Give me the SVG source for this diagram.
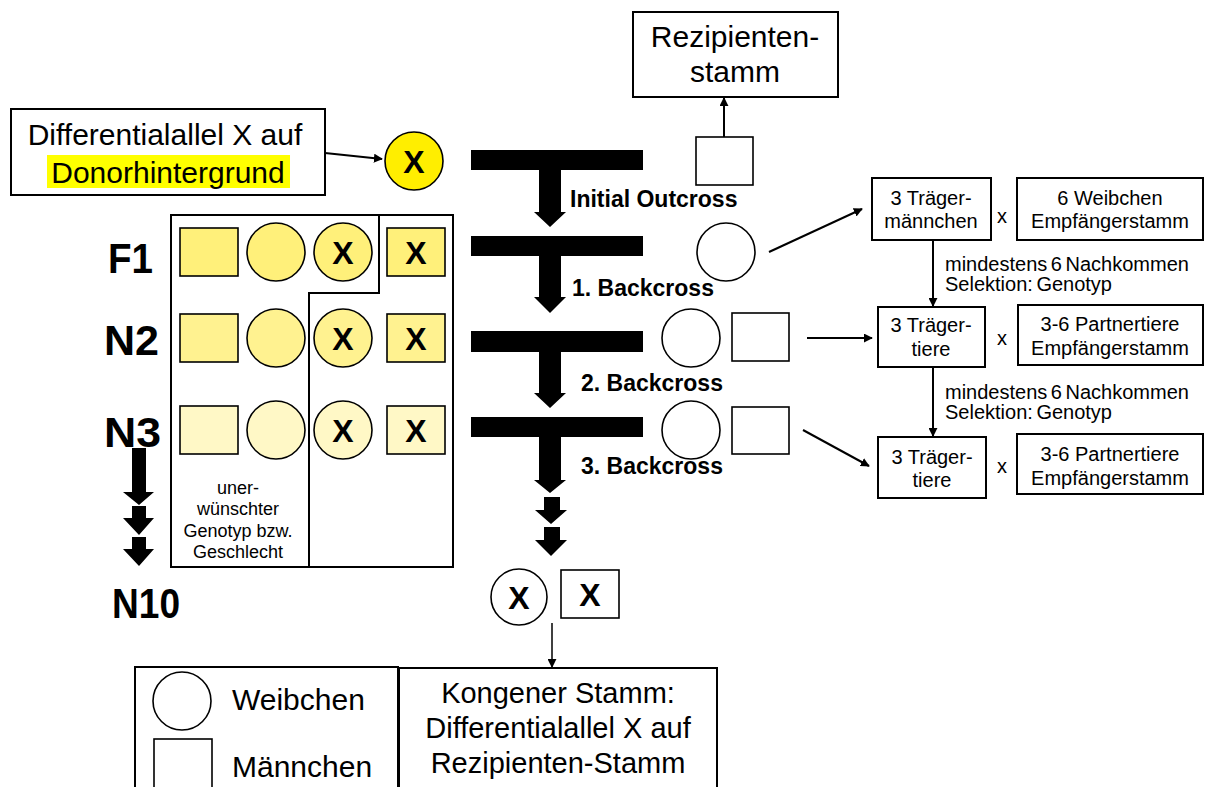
<svg xmlns="http://www.w3.org/2000/svg" width="1206" height="787" viewBox="0 0 1206 787">
  <style>
    text { font-family: "Liberation Sans", Arial, sans-serif; fill: #000; }
    .box { fill: #fff; stroke: #000; stroke-width: 2; }
    .ind { stroke: #000; stroke-width: 1.6; }
    .white { fill: #fff; }
    .y0 { fill: #ffee00; }
    .y1 { fill: #fff07a; }
    .y2 { fill: #fff290; }
    .y3 { fill: #fff8c6; }
    .gen { font-size: 42px; font-weight: bold; }
    .x { font-size: 32px; font-weight: bold; text-anchor: middle; }
    .cross { font-size: 23px; font-weight: bold; }
    .big { font-size: 30px; }
    .mid { font-size: 29px; text-anchor: middle; }
    .sm { font-size: 20px; }
    .smc { font-size: 20px; text-anchor: middle; }
    .note { font-size: 18px; text-anchor: middle; }
    .line { stroke: #000; stroke-width: 2; fill: none; }
    .thick { fill: #000; }
  </style>
  <defs>
    <marker id="ah" viewBox="0 0 10 10" refX="9" refY="5" markerWidth="9" markerHeight="9" markerUnits="userSpaceOnUse" orient="auto">
      <path d="M0,0 L10,5 L0,10 z" fill="#000"/>
    </marker>
  </defs>

  <!-- donor box -->
  <g id="donor">
    <rect class="box" x="11" y="109" width="314" height="86"/>
    <rect x="47" y="155" width="243" height="33" fill="#ffff00"/>
    <text class="big" x="165" y="145" text-anchor="middle">Differentialallel X auf</text>
    <text class="big" x="168" y="183" text-anchor="middle">Donorhintergrund</text>
  </g>
  <g id="donor-female">
    <circle class="ind y0" cx="414" cy="161" r="29"/>
    <text class="x" x="414" y="173">X</text>
  </g>

  <!-- recipient strain -->
  <g id="recipient">
    <rect class="box" x="633" y="12" width="205" height="85"/>
    <text class="big" x="735" y="47" text-anchor="middle">Rezipienten-</text>
    <text class="big" x="735" y="82" text-anchor="middle">stamm</text>
  </g>
  <g id="recipient-male">
    <rect class="ind white" x="696" y="137" width="57" height="48"/>
  </g>

  <!-- generation labels -->
  <g id="gen-labels">
    <text class="gen" x="108" y="273" textLength="45" lengthAdjust="spacingAndGlyphs">F1</text>
    <text class="gen" x="104" y="355" textLength="55" lengthAdjust="spacingAndGlyphs">N2</text>
    <text class="gen" x="104" y="447" textLength="57" lengthAdjust="spacingAndGlyphs">N3</text>
    <text class="gen" x="112" y="618" textLength="68" lengthAdjust="spacingAndGlyphs">N10</text>
  </g>

  <!-- offspring panel -->
  <g id="offspring">
    <rect class="box" x="171" y="215" width="282" height="352"/>
    <path class="line" d="M379,215 V293 H309 V567" stroke-width="1.6"/>
    <!-- F1 -->
    <rect class="ind y1" x="180" y="228" width="58" height="48"/>
    <circle class="ind y1" cx="276" cy="252" r="29"/>
    <circle class="ind y1" cx="343" cy="252" r="29"/>
    <text class="x" x="343" y="264">X</text>
    <rect class="ind y1" x="387" y="228" width="58" height="48"/>
    <text class="x" x="416" y="264">X</text>
    <!-- N2 -->
    <rect class="ind y2" x="180" y="314" width="58" height="48"/>
    <circle class="ind y2" cx="276" cy="338" r="29"/>
    <circle class="ind y2" cx="343" cy="338" r="29"/>
    <text class="x" x="343" y="350">X</text>
    <rect class="ind y2" x="387" y="314" width="58" height="48"/>
    <text class="x" x="416" y="350">X</text>
    <!-- N3 -->
    <rect class="ind y3" x="180" y="406" width="58" height="48"/>
    <circle class="ind y3" cx="276" cy="430" r="29"/>
    <circle class="ind y3" cx="343" cy="430" r="29"/>
    <text class="x" x="343" y="442">X</text>
    <rect class="ind y3" x="387" y="406" width="58" height="48"/>
    <text class="x" x="416" y="442">X</text>
    <text class="note" x="238" y="494">uner-</text>
    <text class="note" x="238" y="515">wünschter</text>
    <text class="note" x="238" y="537">Genotyp bzw.</text>
    <text class="note" x="238" y="558">Geschlecht</text>
  </g>

  <!-- left generation arrows -->
  <g id="left-arrows" class="thick">
    <path d="M132,448 H146 V492 H154 L139,505 L123,492 H132 Z"/>
    <path d="M132,506 H146 V518 H154 L139,535 L123,518 H132 Z"/>
    <path d="M132,537 H146 V549 H154 L139,566 L123,549 H132 Z"/>
  </g>

  <!-- crossing arrows -->
  <g id="cross-arrows" class="thick">
    <path d="M471,150 H643 V170 H561 V212 H566 L550,227 L534,212 H539 V170 H471 Z"/>
    <path d="M471,236 H643 V256 H561 V297 H566 L550,313 L534,297 H539 V256 H471 Z"/>
    <path d="M471,331 H643 V352 H561 V393 H566 L550,408 L534,393 H539 V352 H471 Z"/>
    <path d="M471,417 H643 V437 H561 V480 H566 L550,493 L534,480 H539 V437 H471 Z"/>
    <path d="M544,497 H560 V510 H567 L551,524 L535,510 H544 Z"/>
    <path d="M544,527 H560 V540 H567 L551,556 L535,540 H544 Z"/>
  </g>
  <g id="cross-labels">
    <text class="cross" x="570" y="207">Initial Outcross</text>
    <text class="cross" x="572" y="296">1. Backcross</text>
    <text class="cross" x="581" y="391">2. Backcross</text>
    <text class="cross" x="581" y="474">3. Backcross</text>
  </g>

  <!-- recipient partners -->
  <g id="partner-f1">
    <circle class="ind white" cx="726" cy="252" r="29"/>
  </g>
  <g id="partner-n2">
    <circle class="ind white" cx="691" cy="338" r="29"/>
    <rect class="ind white" x="732" y="313" width="57" height="48"/>
  </g>
  <g id="partner-n3">
    <circle class="ind white" cx="691" cy="430" r="29"/>
    <rect class="ind white" x="732" y="407" width="57" height="47"/>
  </g>

  <!-- congenic pair -->
  <g id="congenic-pair">
    <circle class="ind white" cx="519" cy="597" r="28"/>
    <text class="x" x="519" y="609">X</text>
    <rect class="ind white" x="561" y="570" width="58" height="48"/>
    <text class="x" x="590" y="606">X</text>
  </g>

  <!-- breeding scheme boxes -->
  <g id="carrier-males">
    <rect class="box" x="872" y="178" width="119" height="62"/>
    <text class="smc" x="931" y="205">3 Träger-</text>
    <text class="smc" x="931" y="228">männchen</text>
  </g>
  <text class="sm" x="997" y="223">x</text>
  <g id="females-recipient">
    <rect class="box" x="1017" y="178" width="186" height="62"/>
    <text class="smc" x="1110" y="205">6 Weibchen</text>
    <text class="smc" x="1110" y="228">Empfängerstamm</text>
  </g>
  <g id="note-1">
    <text class="sm" x="945" y="271" word-spacing="-2">mindestens 6 Nachkommen</text>
    <text class="sm" x="945" y="291" word-spacing="-2">Selektion: Genotyp</text>
  </g>
  <g id="carriers-2">
    <rect class="box" x="878" y="307" width="107" height="60"/>
    <text class="smc" x="931" y="332">3 Träger-</text>
    <text class="smc" x="931" y="356">tiere</text>
  </g>
  <text class="sm" x="997" y="345">x</text>
  <g id="partners-2">
    <rect class="box" x="1018" y="305" width="185" height="60"/>
    <text class="smc" x="1110" y="331">3-6 Partnertiere</text>
    <text class="smc" x="1110" y="355">Empfängerstamm</text>
  </g>
  <g id="note-2">
    <text class="sm" x="945" y="399" word-spacing="-2">mindestens 6 Nachkommen</text>
    <text class="sm" x="945" y="419" word-spacing="-2">Selektion: Genotyp</text>
  </g>
  <g id="carriers-3">
    <rect class="box" x="878" y="437" width="108" height="61"/>
    <text class="smc" x="932" y="464">3 Träger-</text>
    <text class="smc" x="932" y="487">tiere</text>
  </g>
  <text class="sm" x="997" y="473">x</text>
  <g id="partners-3">
    <rect class="box" x="1017" y="434" width="186" height="60"/>
    <text class="smc" x="1110" y="461">3-6 Partnertiere</text>
    <text class="smc" x="1110" y="485">Empfängerstamm</text>
  </g>

  <!-- legend -->
  <g id="legend">
    <rect class="box" x="135" y="667" width="263" height="140"/>
    <circle class="ind white" cx="182" cy="701" r="29"/>
    <text class="big" x="232" y="710">Weibchen</text>
    <rect class="ind white" x="154" y="739" width="58" height="60"/>
    <text class="big" x="232" y="777">Männchen</text>
  </g>

  <!-- congenic strain -->
  <g id="congenic">
    <rect class="box" x="399" y="668" width="318" height="140"/>
    <text class="mid" x="558" y="703">Kongener Stamm:</text>
    <text class="mid" x="558" y="738">Differentialallel X auf</text>
    <text class="mid" x="558" y="773">Rezipienten-Stamm</text>
  </g>

  <!-- connectors -->
  <g id="connectors" class="line" stroke-width="1.8">
    <line x1="325" y1="153" x2="382" y2="159" marker-end="url(#ah)"/>
    <line x1="724" y1="137" x2="724" y2="98" marker-end="url(#ah)"/>
    <line x1="769" y1="252" x2="862" y2="209" marker-end="url(#ah)"/>
    <line x1="807" y1="338" x2="872" y2="338" marker-end="url(#ah)"/>
    <line x1="803" y1="430" x2="869" y2="466" marker-end="url(#ah)"/>
    <line x1="933" y1="240" x2="933" y2="306" marker-end="url(#ah)"/>
    <line x1="933" y1="367" x2="933" y2="436" marker-end="url(#ah)"/>
    <line x1="552" y1="623" x2="552" y2="667" stroke-width="1.5" marker-end="url(#ah)"/>
  </g>
</svg>
